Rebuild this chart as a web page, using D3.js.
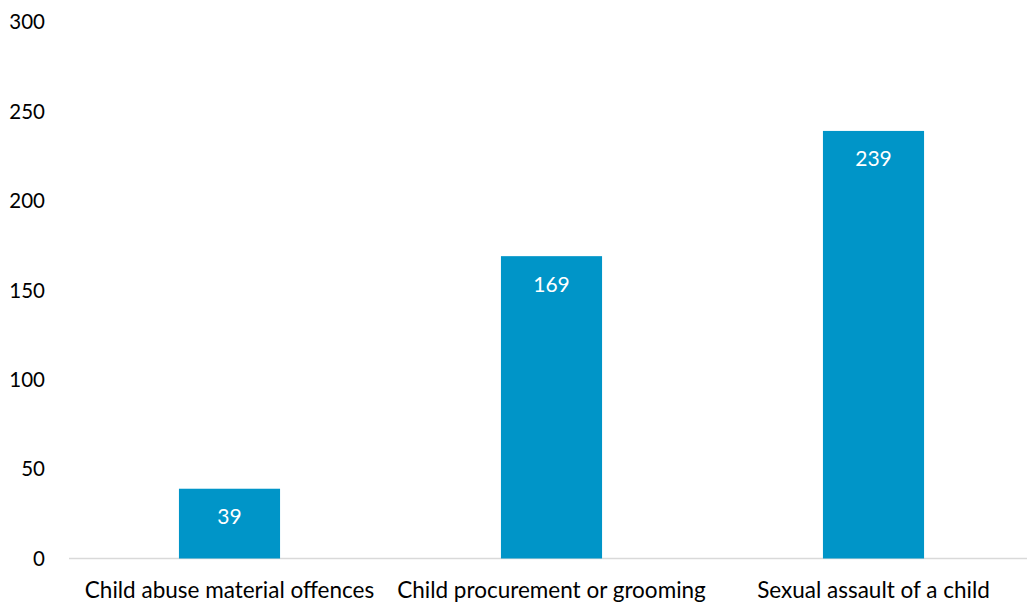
<!DOCTYPE html>
<html><head><meta charset="utf-8">
<script src="https://cdn.jsdelivr.net/npm/d3@7"></script>
<style>body{margin:0;background:#fff}svg{display:block}text{font-family:Lato,"Open Sans",sans-serif}</style>
</head><body><svg id="c" width="1027" height="603"></svg>
<script>
const categories = ["Child abuse material offences", "Child procurement or grooming", "Sexual assault of a child"];
const values = [39, 169, 239];
const yTicks = [0, 50, 100, 150, 200, 250, 300];

const svg = d3.select("#c");
const x = d3.scaleBand().domain(categories).range([68.5, 1034.5]).paddingInner(0.686).paddingOuter(0.343);
const y = d3.scaleLinear().domain([0, 300]).range([558.5, 21.8]);

svg.append("line").attr("x1", 69).attr("x2", 1027).attr("y1", y(0)).attr("y2", y(0))
  .attr("stroke", "#d9d9d9").attr("stroke-width", 1.5);

svg.selectAll(".ytick").data(yTicks).join("text")
  .attr("x", 45).attr("y", d => y(d)).attr("dy", "0.36em")
  .attr("text-anchor", "end").attr("font-size", 20.5).attr("fill", "#000")
  .text(d => d);

svg.selectAll(".bar").data(values).join("rect")
  .attr("x", (d, i) => x(categories[i])).attr("width", x.bandwidth())
  .attr("y", d => y(d)).attr("height", d => y(0) - y(d))
  .attr("fill", "#0095c8");

svg.selectAll(".val").data(values).join("text")
  .attr("x", (d, i) => x(categories[i]) + x.bandwidth() / 2)
  .attr("y", d => y(d) + 28).attr("dy", "0.36em")
  .attr("text-anchor", "middle").attr("font-size", 21).attr("fill", "#fff")
  .text(d => d);

svg.selectAll(".xl").data(categories).join("text")
  .attr("x", d => x(d) + x.bandwidth() / 2).attr("y", 598)
  .attr("text-anchor", "middle").attr("font-size", 22.5).attr("fill", "#000")
  .text(d => d);
</script></body></html>
